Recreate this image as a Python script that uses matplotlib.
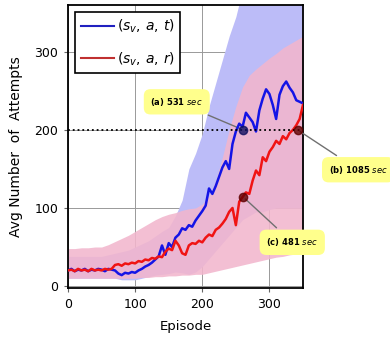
'''
Average number of attempts per episode for two state encodings
'''

from matplotlib import pyplot as plt
from matplotlib.lines import Line2D

# episodes for the mean curves (every 5 episodes)
episodes = list(range(0, 351, 5))

# mean attempts, (s, a, t)
blue_mean = [20, 22, 19, 21, 20, 22, 19, 21, 20, 22, 21, 19, 22, 21, 20,
             16, 14, 17, 16, 18, 17, 20, 22, 25, 27, 30, 34, 38, 52, 40,
             55, 50, 62, 66, 74, 72, 78, 76, 84, 90, 96, 103, 125, 118, 128,
             140, 152, 160, 150, 182, 198, 208, 204, 222, 216, 210, 198, 225, 240, 252,
             246, 232, 214, 245, 256, 262, 254, 248, 238, 236, 234]

# mean attempts, (s, a, r)
red_mean = [20, 21, 19, 22, 20, 21, 19, 22, 20, 21, 20, 22, 21, 22, 27,
            28, 26, 29, 28, 30, 29, 32, 31, 34, 33, 36, 35, 38, 37, 44,
            48, 46, 58, 52, 42, 40, 52, 55, 54, 58, 56, 62, 66, 64, 72,
            75, 80, 86, 95, 100, 78, 108, 114, 120, 118, 135, 148, 142, 165, 160,
            172, 178, 186, 182, 192, 188, 196, 200, 206, 214, 232]

# spread bands (every 10 episodes)
band_episodes = list(range(0, 351, 10))
blue_low = [10, 10, 10, 10, 10, 10, 10, 10, 8, 8, 8, 10, 12, 14, 15, 16, 18, 17,
            15, 18, 25, 35, 45, 55, 65, 75, 85, 90, 95, 95, 98, 100, 100, 100, 100, 100]
blue_high = [38, 38, 38, 38, 38, 38, 40, 42, 44, 46, 50, 54, 58, 64, 70, 75, 90, 110,
             150, 170, 195, 230, 260, 290, 320, 345, 380, 380, 380, 380, 380, 380, 380, 380, 380, 380]
red_low = [10, 10, 10, 10, 10, 10, 10, 10, 10, 10, 10, 11, 11, 12, 12, 13, 13, 14,
           14, 15, 15, 17, 19, 21, 23, 25, 27, 29, 31, 33, 35, 37, 38, 40, 41, 42]
red_high = [48, 48, 49, 49, 50, 50, 53, 57, 61, 65, 70, 75, 80, 85, 89, 92, 94, 97,
            99, 100, 105, 115, 135, 165, 200, 230, 255, 270, 278, 285, 292, 298, 305, 310, 315, 320]

# marked points: (episode, attempts, label, label position, marker colour)
marks = [(261, 200, '(a) 531 $sec$', (162, 236), '#101060'),
         (342, 200, '(b) 1085 $sec$', (432, 149), '#600000'),
         (261, 114, '(c) 481 $sec$', (334, 56), '#600000')]


fig = plt.figure(figsize=(3.9, 3.44), dpi=100)
ax = fig.add_axes([68 / 390, 56 / 344, 235 / 390, 283 / 344])

ax.fill_between(band_episodes, blue_low, blue_high, color='#bcbcf8', lw=0, zorder=1)
ax.fill_between(band_episodes, red_low, red_high, color='#f2b6cd', alpha=0.88, lw=0, zorder=2)

ax.plot(episodes, blue_mean, color='#1414e6', lw=1.8, zorder=4)
ax.plot(episodes, red_mean, color='#f01414', lw=1.8, zorder=4)

ax.axhline(200, color='black', ls=':', lw=1.3, zorder=5)

for ep, val, text, pos, col in marks:
    ax.plot(ep, val, 'o', color=col, ms=6, alpha=0.8, zorder=6)
    ax.annotate(text, xy=(ep, val), xytext=pos, fontsize=6, fontweight='bold',
                ha='center', va='center', annotation_clip=False,
                bbox=dict(boxstyle='round,pad=0.8', fc='#ffff8c', ec='none'),
                arrowprops=dict(arrowstyle='-', color='#707070', lw=1))

ax.set_xlim(0, 350)
ax.set_ylim(-2.5, 360)
ax.set_xticks([0, 100, 200, 300])
ax.set_yticks([0, 100, 200, 300])
ax.tick_params(labelsize=9, length=3, pad=4, color='#666666')
ax.grid(color='#999999', lw=0.7, zorder=0)
ax.set_axisbelow(True)
for s in ax.spines.values():
    s.set_linewidth(1.3)

ax.set_xlabel('Episode', fontsize=9.5, labelpad=7)
ax.set_ylabel('Avg Number  of  Attempts', fontsize=10, labelpad=8)

# Legend box
handles = [Line2D([], [], color='#2020c0', lw=1.5),
           Line2D([], [], color='#c03030', lw=1.5)]
labels = ['$(s_v,\\, a,\\, t)$', '$(s_v,\\, a,\\, r)$']
leg = ax.legend(handles, labels, loc='upper left', fontsize=10, handlelength=2.4,
                handletextpad=0.2, labelspacing=1.1, borderaxespad=0.5,
                fancybox=False, framealpha=1)
leg.get_frame().set_edgecolor('black')
leg.get_frame().set_linewidth(1.2)

plt.savefig('out.png')
